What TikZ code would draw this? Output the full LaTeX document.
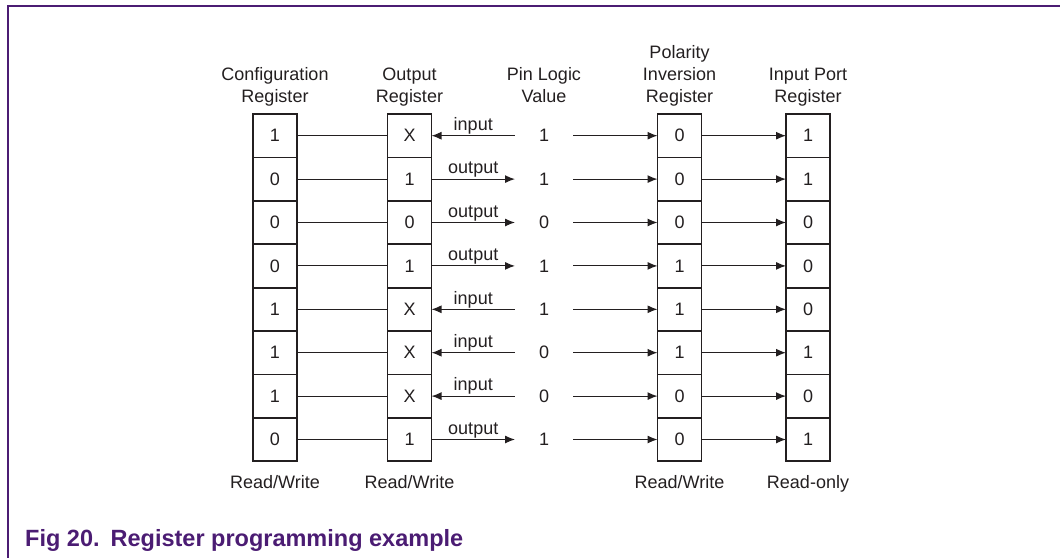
\documentclass[tikz,border=0pt]{standalone}
\usepackage{fontspec}
\setmainfont{Liberation Sans}
\usetikzlibrary{arrows.meta}
\definecolor{figpurple}{RGB}{75,28,115}
\definecolor{ink}{RGB}{35,31,32}

\begin{document}
\begin{tikzpicture}[x=1pt, y=-1pt, text=ink, font=\fontsize{18}{22}\selectfont,
  reg/.style={draw=ink, rectangle, line width=1.8pt, minimum width=44pt, minimum height=43.4pt, inner sep=0pt, outer sep=0pt},
  pin/.style={rectangle, minimum width=58pt, inner sep=0pt, outer sep=0pt},
  head/.style={anchor=south, align=center, inner sep=0pt, text depth=4pt},
  foot/.style={anchor=base, inner sep=0pt},
  wire/.style={draw=ink, line width=1.1pt},
  drive/.style={wire, -{Latex[length=10pt,width=8pt]}},
  readin/.style={wire, {Latex[length=10pt,width=8pt]}-}]

  \useasboundingbox (0,0) rectangle (1060,558);
  \draw[figpurple, line width=1.2pt] (1060,6) -- (8,6) -- (8,558);

  % column headings
  \node[head] (cfg-head) at (275,106.7) {Configuration\\Register};
  \node[head] (out-head) at (409.5,106.7) {Output\\Register};
  \node[head] (pin-head) at (544,106.7) {Pin Logic\\Value};
  \node[head] (pol-head) at (679.5,106.7) {Polarity\\Inversion\\Register};
  \node[head] (inp-head) at (808,106.7) {Input Port\\Register};

  % one row per bit
  \foreach \cfg/\out/\dir/\lbl/\pin/\pol/\inp [count=\i] in {
      1/X/readin/input/1/0/1, 0/1/drive/output/1/0/1,
      0/0/drive/output/0/0/0, 0/1/drive/output/1/1/0,
      1/X/readin/input/1/1/0, 1/X/readin/input/0/1/1,
      1/X/readin/input/0/0/0, 0/1/drive/output/1/0/1} {
    \pgfmathsetmacro\y{135.7+(\i-1)*43.4}
    \node[reg] (cfg-\i) at (275,\y) {\cfg};
    \node[reg] (out-\i) at (409.5,\y) {\out};
    \node[pin] (pin-\i) at (544,\y) {\pin};
    \node[reg] (pol-\i) at (679.5,\y) {\pol};
    \node[reg] (inp-\i) at (808,\y) {\inp};

    \draw[wire] (cfg-\i) -- (out-\i);
    \draw[\dir] (out-\i) -- node[above, inner sep=1pt] {\lbl} (pin-\i);
    \draw[drive] (pin-\i) -- (pol-\i);
    \draw[drive] (pol-\i) -- (inp-\i);
  }

  % access types
  \node[foot] (cfg-foot) at (275,488) {Read/Write};
  \node[foot] (out-foot) at (409.5,488) {Read/Write};
  \node[foot] (pol-foot) at (679.5,488) {Read/Write};
  \node[foot] (inp-foot) at (808,488) {Read-only};

  \node[anchor=base west, inner sep=0pt, text=figpurple, font=\fontsize{23.5}{28}\bfseries\selectfont] (caption) at (25,546) {Fig 20.\hspace{11pt}Register programming example};
\end{tikzpicture}
\end{document}
